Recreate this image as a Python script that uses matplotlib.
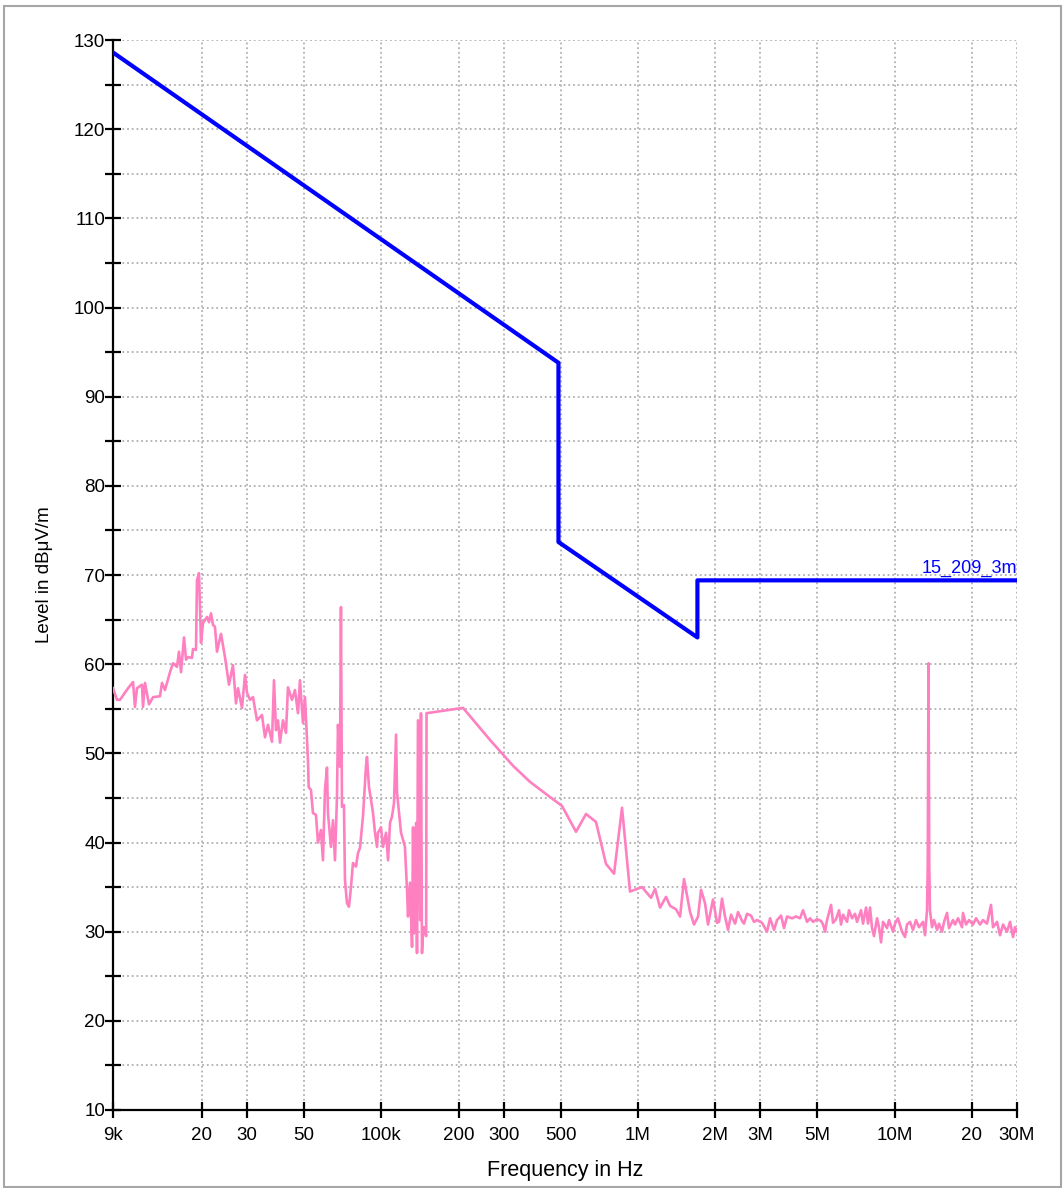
import matplotlib.pyplot as plt
from matplotlib.patches import Rectangle
from matplotlib.ticker import FixedLocator, NullLocator

plt.rcParams['font.family'] = ['Liberation Sans', 'DejaVu Sans']

### Data ###
# limit line 15_209_3m (frequency in kHz, level in dBuV/m)
limit_khz = [9, 490, 490, 1705, 1705, 30000]
limit_db = [128.6, 93.8, 73.7, 63.0, 69.4, 69.4]

# measured trace, 9k - 150k scan
scan1_khz = [9.0, 9.33, 9.58, 10.30, 10.77, 10.96, 11.16, 11.67, 11.78, 11.99,
             12.43, 12.89, 13.72, 13.97, 14.35, 15.01, 15.42, 15.98, 16.27, 16.57,
             17.02, 17.33, 17.64, 18.28, 18.45, 18.95, 19.12, 19.47, 19.82, 20.18,
             20.92, 21.30, 21.68, 22.07, 22.47, 22.88, 23.72, 24.58, 25.48, 26.41,
             27.13, 27.63, 28.64, 29.42, 29.95, 30.77, 31.61, 32.76, 34.26, 35.20,
             36.16, 37.48, 38.16, 38.85, 39.55, 40.27, 41.36, 42.49, 43.26, 44.84,
             46.07, 47.32, 48.18, 49.49, 50.39, 51.76, 52.1, 53.18, 54.14, 55.62,
             56.63, 58.17, 59.22, 60.30, 61.39, 61.94, 63.63, 64.78, 65.96, 67.15,
             67.76, 68.98, 69.60, 70.23, 71.50, 72.15, 73.45, 74.78, 76.14, 77.51,
             79.63, 81.07, 82.54, 84.03, 84.79, 87.11, 87.89, 89.52, 91.13, 92.79,
             94.47, 96.18, 97.05, 99.69, 101.5, 104.3, 106.2, 108.1, 110.0, 112.0,
             114.1, 115.1, 117.2, 119.3, 121.4, 123.6, 125.9, 127.0, 129.3, 131.7,
             132.9, 134.0, 136.5, 137.7, 138.9, 141.5, 142.7, 144.0, 145.3, 146.5,
             149.5]
scan1_db = [57.3, 56.0, 56.0, 57.3, 58.0, 55.2, 57.3, 57.7, 55.2, 57.9,
            55.5, 56.3, 56.4, 57.9, 57.1, 59.1, 60.1, 59.7, 61.4, 59.1,
            63.0, 60.5, 60.8, 60.7, 61.7, 61.6, 69.4, 70.2, 62.4, 64.6,
            65.3, 64.7, 65.7, 64.4, 64.2, 61.4, 63.4, 60.8, 57.7, 59.9,
            55.6, 57.3, 55.1, 58.8, 56.8, 56.0, 56.3, 53.7, 54.3, 51.8,
            53.2, 51.3, 58.2, 52.6, 53.7, 51.2, 53.7, 52.3, 57.4, 56.0,
            57.1, 54.5, 58.2, 53.4, 56.3, 49.3, 46.2, 45.9, 43.3, 43.1,
            40.0, 41.4, 38.0, 45.9, 48.4, 43.3, 39.5, 42.5, 38.0, 45.1,
            53.2, 48.5, 66.4, 44.0, 44.2, 35.8, 33.2, 32.8, 35.0, 37.7,
            37.3, 38.8, 39.4, 41.7, 42.9, 48.5, 49.6, 46.2, 44.8, 43.3,
            41.1, 39.5, 41.1, 41.7, 39.5, 41.1, 38.0, 42.2, 42.9, 44.4,
            52.1, 45.6, 43.3, 41.1, 40.3, 39.5, 34.7, 31.7, 35.5, 28.3,
            41.7, 29.8, 42.2, 27.6, 53.7, 31.3, 54.5, 27.6, 29.8, 30.5,
            29.5]

# measured trace, 150k - 30M scan
scan2_khz = [150, 208.1, 265.2, 326.0, 379.6, 454.3, 505.9, 573.7, 627.4, 686.3,
             750.7, 806.9, 866.7, 931.2, 1037, 1124, 1166, 1219, 1286, 1334,
             1408, 1459, 1512, 1596, 1654, 1715, 1761, 1825, 1875, 1961,
             2033, 2070, 2126, 2184, 2244, 2306, 2390, 2455, 2545, 2590,
             2661, 2758, 2833, 2911, 3044, 3184, 3272, 3391, 3483, 3611,
             3709, 3810, 3985, 4131, 4281, 4398, 4559, 4684, 4811, 4987,
             5170, 5263, 5359, 5456, 5655, 5757, 5915, 6076, 6186, 6298,
             6528, 6646, 6827, 7014, 7141, 7401, 7535, 7741, 7881, 8024,
             8169, 8317, 8544, 8698, 8856, 9016, 9345, 9515, 9862, 10040,
             10310, 10690, 10980, 11180, 11490, 11800, 12120, 12450, 12910, 13140,
             13380, 13470, 13560, 13650, 13740, 13990, 14250, 14640, 14900, 15310,
             15590, 16010, 16300, 16900, 17200, 17670, 18320, 18480, 18990, 19510,
             20220, 20770, 21530, 22120, 22920, 23760, 24190, 25080, 25760, 26460,
             27430, 28180, 28950, 29470, 30000]
scan2_db = [54.5, 55.1, 51.5, 48.6, 46.8, 45.1, 44.1, 41.2, 43.2, 42.3,
            37.6, 36.5, 43.9, 34.5, 35.0, 33.8, 34.8, 32.7, 33.9, 32.9,
            32.5, 31.7, 35.9, 32.2, 30.8, 31.7, 34.7, 33.2, 30.8, 33.6,
            31.0, 31.1, 33.7, 31.7, 30.2, 31.9, 30.9, 32.2, 31.2, 30.9,
            32.0, 31.8, 31.1, 31.3, 31.0, 30.0, 31.5, 30.2, 31.3, 31.8,
            30.4, 31.7, 31.5, 31.7, 31.5, 32.4, 31.1, 31.5, 31.1, 31.4,
            31.2, 30.8, 30.0, 31.3, 33.0, 31.0, 31.4, 32.4, 30.8, 31.9,
            31.1, 32.4, 31.5, 32.0, 31.1, 32.4, 30.9, 32.7, 30.9, 32.7,
            30.4, 29.5, 31.5, 30.5, 28.8, 31.1, 30.4, 31.3, 30.0, 30.9,
            31.5, 30.0, 29.4, 30.8, 31.1, 30.2, 31.3, 30.5, 31.1, 29.6,
            32.4, 37.5, 60.1, 37.5, 32.4, 30.5, 31.3, 30.2, 30.9, 30.0,
            31.1, 32.1, 30.4, 31.3, 30.8, 31.5, 30.5, 32.1, 30.8, 31.3,
            30.8, 31.5, 30.8, 31.3, 30.9, 33.0, 30.5, 31.1, 29.6, 30.8,
            30.0, 31.1, 29.4, 30.5, 30.0]

xtick_hz = [9e3, 20e3, 30e3, 50e3, 100e3, 200e3, 300e3, 500e3,
            1e6, 2e6, 3e6, 5e6, 10e6, 20e6, 30e6]
xtick_labels = ['9k', '20', '30', '50', '100k', '200', '300', '500',
                '1M', '2M', '3M', '5M', '10M', '20', '30M']

### Plot ###
fig = plt.figure(figsize=(10.63, 11.88), dpi=100)
ax = fig.add_axes([113 / 1063, 1 - 1110 / 1188, 904 / 1063, 1070 / 1188])

meas_hz = [k * 1e3 for k in scan1_khz + scan2_khz]
ax.plot(meas_hz, scan1_db + scan2_db, color='#ff80c0', linewidth=1.9, zorder=3)
ax.plot([k * 1e3 for k in limit_khz], limit_db, color='#0000ff', linewidth=3.0, zorder=4)
ax.text(30e6, 70.25, '15_209_3m', color='#0000ff', fontsize=13,
        ha='right', va='baseline', zorder=5)

ax.set_xscale('log')
ax.set_xlim(9e3, 30e6)
ax.set_ylim(10, 130)
ax.xaxis.set_major_locator(FixedLocator(xtick_hz))
ax.set_xticklabels(xtick_labels)
ax.xaxis.set_minor_locator(NullLocator())
ax.yaxis.set_major_locator(FixedLocator(range(10, 131, 10)))
ax.yaxis.set_minor_locator(FixedLocator(range(15, 130, 10)))

ax.grid(which='both', color='#b0b0b0', linestyle=(0, (1, 1.6)), linewidth=1.3, zorder=1)
ax.set_axisbelow(True)
for s in ['top', 'right']:
    ax.spines[s].set_visible(False)
for s in ['left', 'bottom']:
    ax.spines[s].set_linewidth(1.6)

ax.tick_params(which='both', direction='inout', length=11, width=1.6,
               labelsize=13.5, colors='black')
ax.tick_params(axis='x', pad=7)
ax.tick_params(axis='y', pad=0)

ax.set_xlabel('Frequency in Hz', fontsize=15.5, labelpad=11)
ax.set_ylabel('Level in dBμV/m', fontsize=13.5, labelpad=15)

fig.patches.append(Rectangle((4 / 1063, 1 - 1187 / 1188), 1057 / 1063, 1181 / 1188,
                             transform=fig.transFigure, fill=False,
                             edgecolor='#a6a6a6', linewidth=1.5))

fig.savefig('out.png', dpi=100)
